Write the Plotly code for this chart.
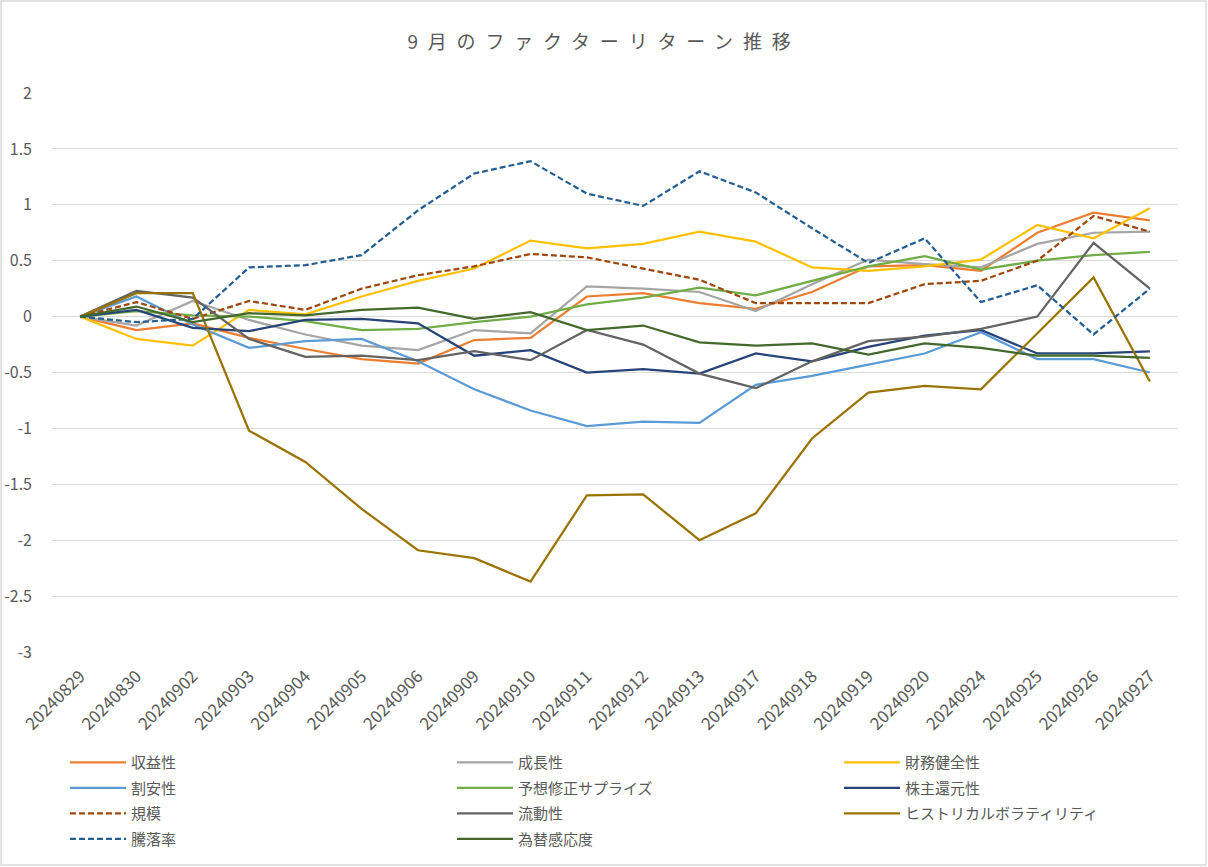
import plotly.graph_objects as go

dates = ["20240829", "20240830", "20240902", "20240903", "20240904", "20240905",
         "20240906", "20240909", "20240910", "20240911", "20240912", "20240913",
         "20240917", "20240918", "20240919", "20240920", "20240924", "20240925",
         "20240926", "20240927"]

shueki = [0, -0.12, -0.06, -0.19, -0.29, -0.38, -0.42, -0.21, -0.19, 0.18, 0.21, 0.12,
          0.07, 0.22, 0.45, 0.46, 0.41, 0.75, 0.93, 0.86]
seicho = [0, -0.08, 0.14, -0.03, -0.16, -0.26, -0.30, -0.12, -0.15, 0.27, 0.25, 0.22,
          0.05, 0.29, 0.51, 0.47, 0.44, 0.65, 0.75, 0.76]
zaimu = [0, -0.20, -0.26, 0.06, 0.02, 0.18, 0.32, 0.43, 0.68, 0.61, 0.65, 0.76,
         0.67, 0.44, 0.41, 0.45, 0.51, 0.82, 0.70, 0.97]
wariyasu = [0, 0.18, -0.07, -0.28, -0.22, -0.20, -0.40, -0.65, -0.84, -0.98, -0.94, -0.95,
            -0.61, -0.53, -0.43, -0.33, -0.14, -0.38, -0.38, -0.50]
yoso = [0, 0.05, 0.01, 0.00, -0.04, -0.12, -0.11, -0.05, 0.00, 0.11, 0.17, 0.26,
        0.19, 0.32, 0.45, 0.54, 0.42, 0.50, 0.55, 0.58]
kabunushi = [0, 0.06, -0.10, -0.13, -0.03, -0.02, -0.06, -0.35, -0.30, -0.50, -0.47, -0.51,
             -0.33, -0.40, -0.27, -0.17, -0.12, -0.33, -0.33, -0.31]
kibo = [0, 0.13, -0.02, 0.14, 0.06, 0.25, 0.37, 0.45, 0.56, 0.53, 0.43, 0.33,
        0.12, 0.12, 0.12, 0.29, 0.32, 0.50, 0.90, 0.76]
ryudo = [0, 0.23, 0.17, -0.20, -0.36, -0.35, -0.39, -0.31, -0.39, -0.12, -0.25, -0.51,
         -0.64, -0.40, -0.22, -0.18, -0.11, 0.00, 0.66, 0.25]
hv = [0, 0.21, 0.21, -1.02, -1.30, -1.72, -2.09, -2.16, -2.37, -1.60, -1.59, -2.00,
      -1.76, -1.09, -0.68, -0.62, -0.65, -0.15, 0.35, -0.58]
toraku = [0, -0.05, -0.02, 0.44, 0.46, 0.55, 0.95, 1.28, 1.39, 1.10, 0.99, 1.30,
          1.11, 0.79, 0.48, 0.70, 0.13, 0.28, -0.16, 0.25]
kawase = [0, 0.09, -0.05, 0.03, 0.01, 0.06, 0.08, -0.02, 0.04, -0.12, -0.08, -0.23,
          -0.26, -0.24, -0.34, -0.24, -0.28, -0.35, -0.35, -0.37]

series_names = ["収益性", "成長性", "財務健全性", "割安性", "予想修正サプライズ", "株主還元性",
                "規模", "流動性", "ヒストリカルボラティリティ", "騰落率", "為替感応度"]
series_values = [shueki, seicho, zaimu, wariyasu, yoso, kabunushi, kibo, ryudo, hv, toraku, kawase]
series_colors = ["#ED7D31", "#A5A5A5", "#FFC000", "#5B9BD5", "#70AD47", "#264478",
                 "#9E480E", "#636363", "#997300", "#255E91", "#43682B"]
series_dashed = [False, False, False, False, False, False, True, False, False, True, False]

y_tickvals = [2, 1.5, 1, 0.5, 0, -0.5, -1, -1.5, -2, -2.5, -3]
y_ticktext = ["2", "1.5", "1", "0.5", "0", "-0.5", "-1", "-1.5", "-2", "-2.5", "-3"]

FONT = "Noto Sans CJK JP, Noto Sans, sans-serif"
TXT = "#595959"

fig = go.Figure()
legend_ids = ["legend", "legend2", "legend3"]
for i, (name, vals, col, dashed) in enumerate(zip(series_names, series_values, series_colors, series_dashed)):
    fig.add_trace(go.Scatter(
        x=dates, y=vals, name=name, mode="lines",
        line=dict(color=col, width=2.25, dash="6px,3px" if dashed else "solid"),
        legend=legend_ids[i % 3], legendgroup=name,
    ))

W, H = 1208, 867
L, R, T, B = 52, 30, 93, 215
pw, ph = W - L - R, H - T - B

leg_common = dict(
    xref="container", yref="container", xanchor="left", yanchor="top",
    orientation="v", traceorder="grouped", tracegroupgap=3,
    font=dict(family=FONT, size=15, color=TXT), bgcolor="rgba(0,0,0,0)",
    itemwidth=56,
)
ytop = 1 - 746 / H
fig.update_layout(
    width=W, height=H,
    margin=dict(l=L, r=R, t=T, b=B, autoexpand=False),
    paper_bgcolor="white", plot_bgcolor="white",
    font=dict(family=FONT, color=TXT),
    title=dict(text="9月のファクターリターン推移", x=0.5, xref="container", xanchor="center",
               y=1 - 42 / H, yref="container", yanchor="middle",
               font=dict(family=FONT, size=19, color=TXT)),
    legend=dict(x=65 / W, y=ytop, **leg_common),
    legend2=dict(x=452 / W, y=ytop, **leg_common),
    legend3=dict(x=839 / W, y=ytop, **leg_common),
    xaxis=dict(type="category", range=[-0.5, len(dates) - 0.5], tickangle=-45,
               showgrid=False, showline=False, zeroline=False, ticks="",
               tickfont=dict(family=FONT, size=17, color=TXT), ticklabelstandoff=10),
    yaxis=dict(range=[-3, 2], tickvals=y_tickvals, ticktext=y_ticktext,
               showgrid=True, gridcolor="#D9D9D9", gridwidth=1, zeroline=False,
               showline=False, ticks="", ticklabelstandoff=19,
               tickfont=dict(family=FONT, size=16, color=TXT)),
    shapes=[dict(type="rect", xref="paper", yref="paper",
                 x0=(1 - L) / pw, x1=(W - 2 - L) / pw,
                 y0=(ph + T - (H - 2)) / ph, y1=(ph + T - 1) / ph,
                 line=dict(color="#D9D9D9", width=1.5), fillcolor="rgba(0,0,0,0)", layer="below")],
)

post = ("document.body.style.margin='0px';"
        "var t=document.querySelector('.gtitle'); if(t){t.style.letterSpacing='9.8px';}")
fig.write_html("out.html", post_script=post, config={"displayModeBar": False})
